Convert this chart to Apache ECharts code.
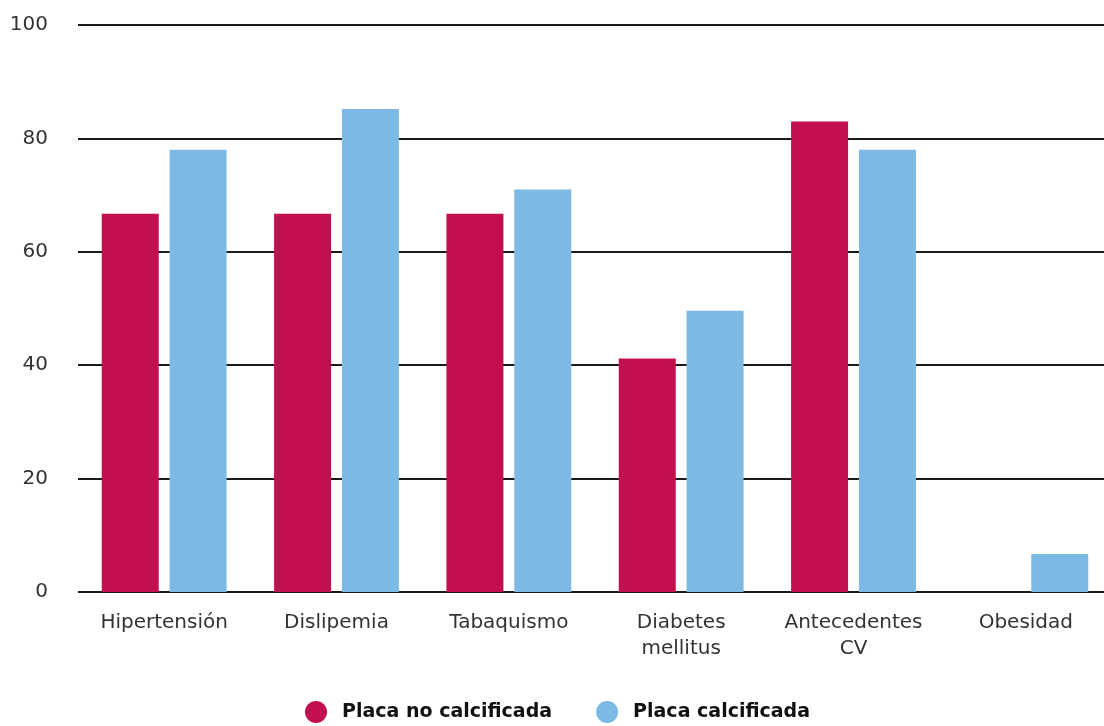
<!DOCTYPE html>
<html>
<head>
<meta charset="utf-8">
<script src="https://cdn.jsdelivr.net/npm/echarts@6/dist/echarts.min.js"></script>
<style>html,body{margin:0;padding:0;background:#fff;}#c{width:1104px;height:726px;}</style>
</head>
<body>
<div id="c"></div>
<script>
const categories = ["Hipertensión", "Dislipemia", "Tabaquismo", "Diabetes\nmellitus", "Antecedentes\nCV", "Obesidad"];
const noCalcificada = [66.7, 66.7, 66.7, 41.2, 83, 0];
const calcificada = [78, 85.2, 71, 49.6, 78, 6.7];
const yTicks = [0, 20, 40, 60, 80, 100];

const chart = echarts.init(document.getElementById('c'));
chart.setOption({
  animation: false,
  backgroundColor: '#fff',
  textStyle: { fontFamily: 'DejaVu Sans' },
  grid: { left: 78, top: 25, width: 1034, bottom: 134, outerBoundsMode: 'none', containLabel: false },
  legend: {
    bottom: 3,
    padding: 0,
    left: 305,
    itemGap: 44,
    itemWidth: 22,
    itemHeight: 22,
    icon: 'circle',
    textStyle: { fontSize: 19, fontWeight: 'bold', color: '#111', fontFamily: 'DejaVu Sans', padding: [0, 0, 0, 10] },
    data: ['Placa no calcificada', 'Placa calcificada']
  },
  xAxis: {
    type: 'category',
    data: categories,
    axisLine: { show: false },
    axisTick: { show: false },
    axisLabel: { fontSize: 20, color: '#333', margin: 18, lineHeight: 26, interval: 0 }
  },
  yAxis: {
    type: 'value',
    min: yTicks[0],
    max: yTicks[yTicks.length - 1],
    interval: 20,
    axisLine: { show: false },
    axisTick: { show: false },
    axisLabel: { fontSize: 20, color: '#333', margin: 30 },
    splitLine: { lineStyle: { color: '#1a1a1a', width: 2 } }
  },
  series: [
    {
      name: 'Placa no calcificada',
      type: 'bar',
      data: noCalcificada,
      barWidth: 57,
      barGap: '19%',
      itemStyle: { color: '#C20F50' }
    },
    {
      name: 'Placa calcificada',
      type: 'bar',
      data: calcificada,
      barWidth: 57,
      itemStyle: { color: '#7DB9E5' }
    }
  ]
});
</script>
</body>
</html>
